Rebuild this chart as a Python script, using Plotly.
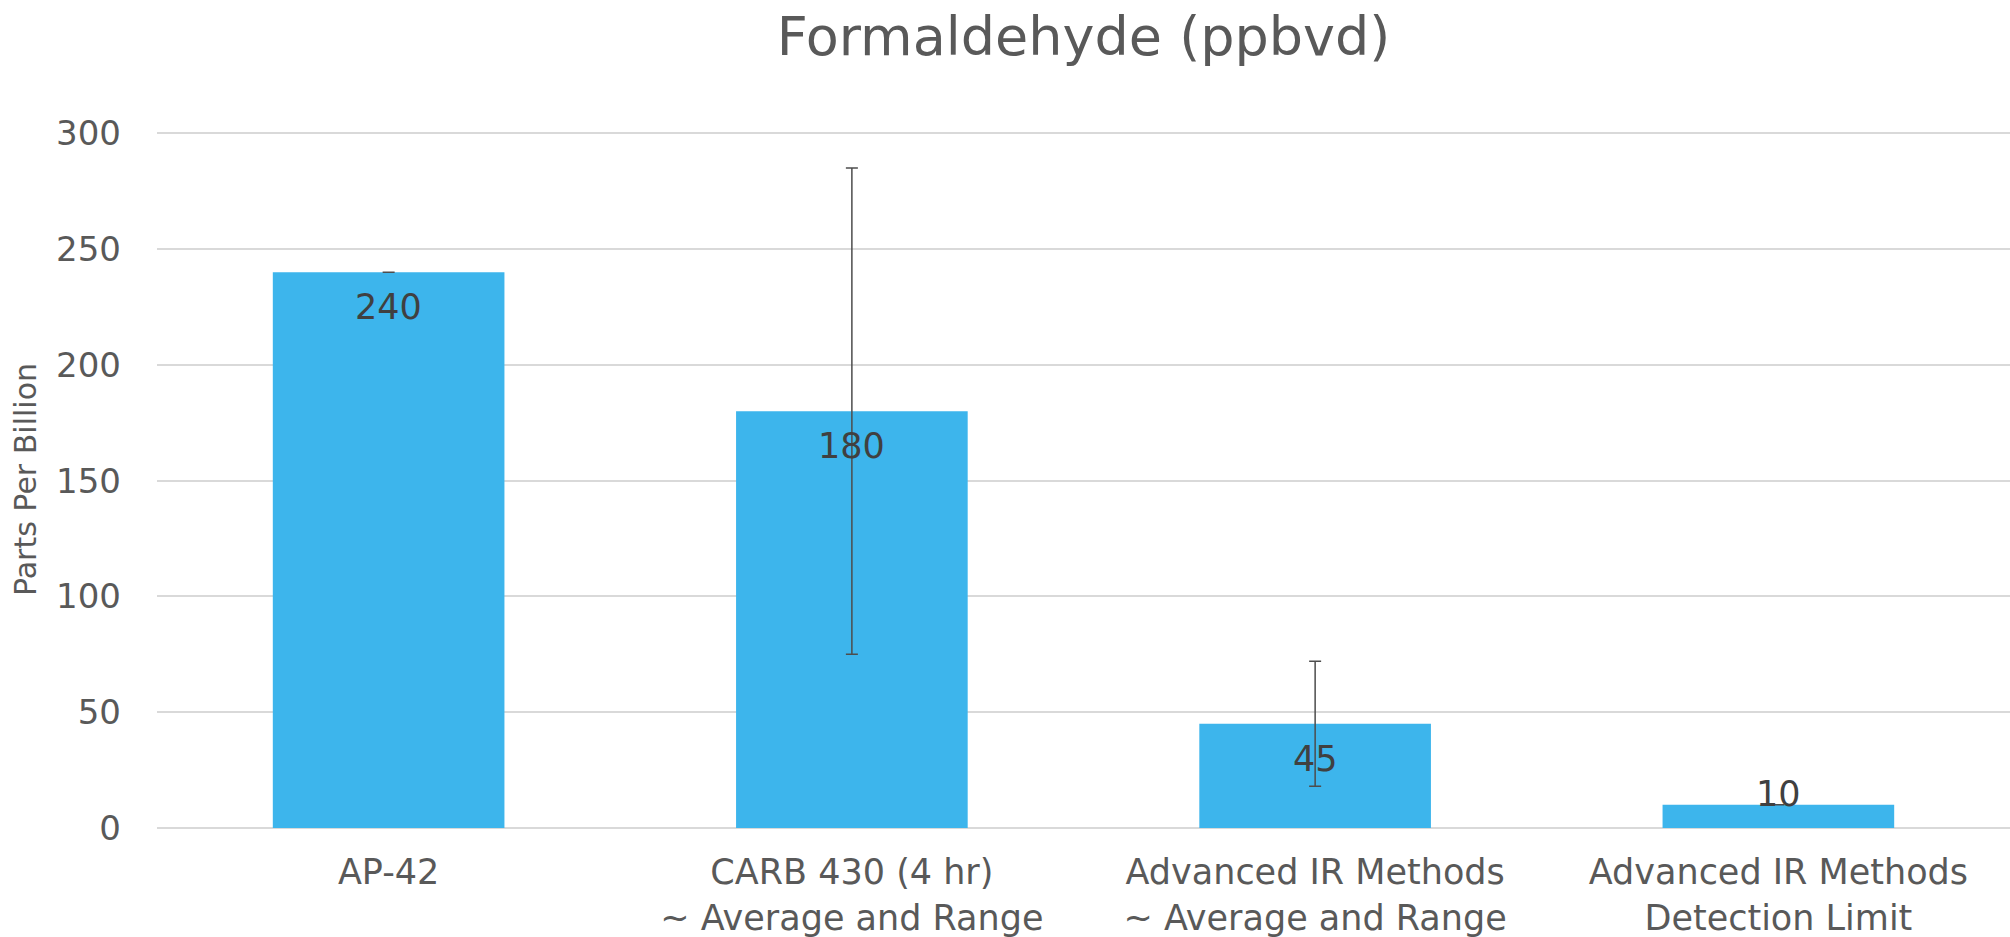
import plotly.graph_objects as go

categories = [
    "AP-42",
    "CARB 430 (4 hr)<br>~ Average and Range",
    "Advanced IR Methods<br>~ Average and Range",
    "Advanced IR Methods<br>Detection Limit",
]
values = [240, 180, 45, 10]
err_plus = [0, 105, 27, 0]
err_minus = [0, 105, 27, 0]
y_ticks = [0, 50, 100, 150, 200, 250, 300]

FONT = "DejaVu Sans"
TXT = "#595959"

fig = go.Figure()
fig.add_trace(go.Bar(
    x=categories,
    y=values,
    marker=dict(color="#3DB5EC", line=dict(width=0)),
    error_y=dict(type="data", symmetric=False, array=err_plus, arrayminus=err_minus,
                 color="#4D4D4D", thickness=1.5, width=6),
    hoverinfo="x+y",
))

for c, v in zip(categories, values):
    fig.add_annotation(x=c, y=v, text=str(v), showarrow=False,
                       yshift=(-35 if v >= 30 else 11),
                       font=dict(family=FONT, size=35, color="#404040"))

fig.update_layout(
    width=2010, height=937,
    margin=dict(l=157, r=0, t=131, b=109),
    paper_bgcolor="white", plot_bgcolor="white",
    bargap=0.5,
    showlegend=False,
    font=dict(family=FONT, color=TXT),
    title=dict(text="Formaldehyde (ppbvd)", x=0.5, xref="paper", xanchor="center",
               y=1 - 36 / 937, yref="container", yanchor="middle",
               font=dict(family=FONT, size=54, color=TXT)),
    xaxis=dict(showgrid=False, showline=False, zeroline=False, ticks="",
               tickfont=dict(family=FONT, size=35, color=TXT), ticklabelstandoff=20),
    yaxis=dict(range=[0, 301], tickvals=y_ticks, showgrid=True, gridcolor="#D9D9D9",
               gridwidth=1.5, zeroline=True, zerolinecolor="#D9D9D9", zerolinewidth=1.5,
               showline=False, ticks="", ticklabelstandoff=35,
               tickfont=dict(family=FONT, size=34, color=TXT),
               title=dict(text="Parts Per Billion", standoff=10,
                          font=dict(family=FONT, size=30, color=TXT))),
)

fig.write_html("out.html")
